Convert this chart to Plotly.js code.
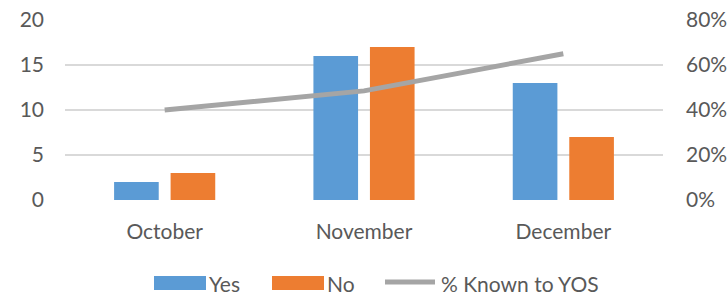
<!DOCTYPE html>
<html>
<head>
<meta charset="utf-8">
<script src="https://cdn.plot.ly/plotly-3.0.1.min.js"></script>
<style>html,body{margin:0;padding:0;background:#fff;}#chart{width:728px;height:296px;}</style>
</head>
<body>
<div id="chart"></div>
<script>
const months = ["October", "November", "December"];
const yesValues = [2, 16, 13];
const noValues = [3, 17, 7];
const pctKnown = [0.40, 0.485, 0.65];
const leftTicks = [0, 5, 10, 15, 20];
const rightTicks = [0, 0.2, 0.4, 0.6, 0.8];
const seriesNames = ["Yes", "No", "% Known to YOS"];

const FONT = "Lato, 'Open Sans', sans-serif";
const FS = 21;
const TXT = "#595959";
const BLUE = "#5B9BD5", ORANGE = "#ED7D31", GREY = "#A5A5A5";

const data = [
  {type: "bar", name: seriesNames[0], x: months, y: yesValues, marker: {color: BLUE}, hoverinfo: "none"},
  {type: "bar", name: seriesNames[1], x: months, y: noValues, marker: {color: ORANGE}, hoverinfo: "none"},
  {type: "scatter", mode: "lines", name: seriesNames[2], x: months, y: pctKnown, yaxis: "y2",
   line: {color: GREY, width: 5}, hoverinfo: "none"}
];

const L = 65, R = 663, T = 20, B = 200;
const px = v => (v - L) / (R - L);
const py = v => (B - v) / (B - T);
const LEG_Y = 283;

const layout = {
  width: 728, height: 296,
  margin: {l: 65, r: 65, t: 20, b: 96},
  paper_bgcolor: "#fff", plot_bgcolor: "#fff",
  showlegend: false,
  barmode: "group", bargap: 0.433, bargroupgap: 0.21,
  font: {family: FONT, size: FS, color: TXT},
  xaxis: {type: "category", showgrid: false, zeroline: false, showline: false, ticks: "",
          tickfont: {family: FONT, size: FS, color: TXT}, ticklabelstandoff: 17},
  yaxis: {range: [0, 20], tickvals: leftTicks, showgrid: true, gridcolor: "#D9D9D9", gridwidth: 1.3,
          zeroline: false, showline: false, ticks: "", tickfont: {family: FONT, size: FS, color: TXT},
          ticklabelstandoff: 20},
  yaxis2: {range: [0, 0.8], tickvals: rightTicks, tickformat: ".0%", overlaying: "y", side: "right",
           showgrid: false, zeroline: false, showline: false, ticks: "",
           tickfont: {family: FONT, size: FS, color: TXT}, ticklabelstandoff: 22},
  shapes: [
    {type: "rect", xref: "paper", yref: "paper", x0: px(154), x1: px(206), y0: py(LEG_Y - 7), y1: py(LEG_Y + 7), fillcolor: BLUE, line: {width: 0}},
    {type: "rect", xref: "paper", yref: "paper", x0: px(272), x1: px(324), y0: py(LEG_Y - 7), y1: py(LEG_Y + 7), fillcolor: ORANGE, line: {width: 0}},
    {type: "line", xref: "paper", yref: "paper", x0: px(385), x1: px(435), y0: py(LEG_Y - 1), y1: py(LEG_Y - 1), line: {color: GREY, width: 5}}
  ],
  annotations: [
    {xref: "paper", yref: "paper", x: px(208), y: py(LEG_Y), xanchor: "left", yanchor: "middle", borderpad: 0, text: seriesNames[0], showarrow: false, font: {family: FONT, size: FS, color: TXT}},
    {xref: "paper", yref: "paper", x: px(326), y: py(LEG_Y), xanchor: "left", yanchor: "middle", borderpad: 0, text: seriesNames[1], showarrow: false, font: {family: FONT, size: FS, color: TXT}},
    {xref: "paper", yref: "paper", x: px(440), y: py(LEG_Y), xanchor: "left", yanchor: "middle", borderpad: 0, text: seriesNames[2], showarrow: false, font: {family: FONT, size: FS, color: TXT}}
  ]
};

Plotly.newPlot("chart", data, layout, {displayModeBar: false, staticPlot: true});
</script>
</body>
</html>
